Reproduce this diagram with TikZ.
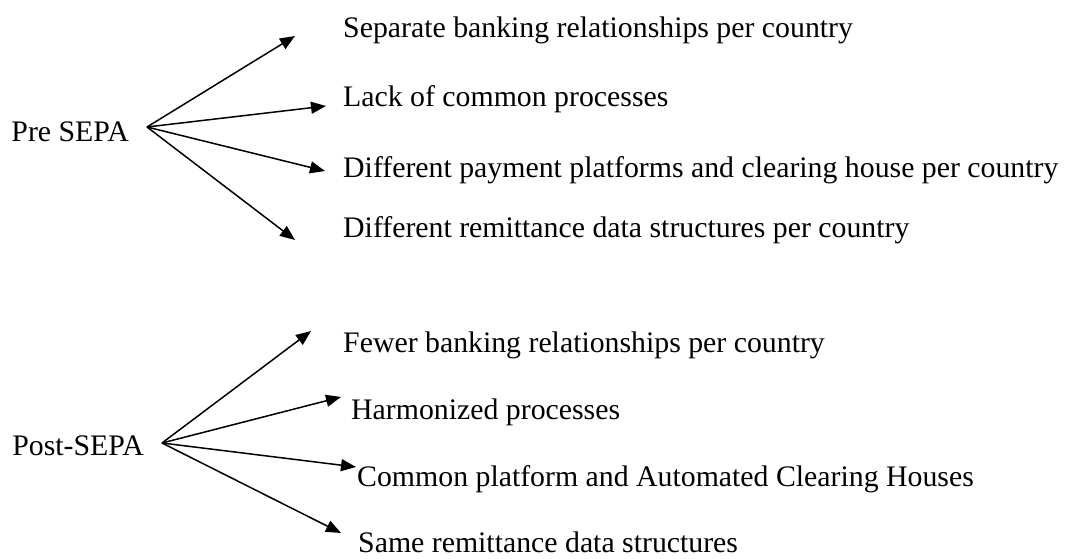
\documentclass[tikz,border=0pt]{standalone}
\usepackage{fontspec}
\setmainfont{Liberation Serif}
\usetikzlibrary{arrows.meta}
\begin{document}
\begin{tikzpicture}[x=1pt,y=-1pt,
  lbl/.style={anchor=base west,inner sep=0pt,font=\fontsize{29.8}{34}\selectfont},
  root/.style={anchor=base east,inner sep=0pt,font=\fontsize{29.8}{34}\selectfont},
  arr/.style={line width=1.5pt,-{Triangle[length=15pt,width=12pt]}}]
\useasboundingbox (0,0) rectangle (1065,559);
% Pre SEPA
\node[root] (pre) at (129,142) {Pre SEPA};
\coordinate (ps) at (147,127);
\node[lbl] (a1) at (343,38) {Separate banking relationships per country};
\node[lbl] (a2) at (343,107) {Lack of common processes};
\node[lbl] (a3) at (343,177) {Different payment platforms and clearing house per country};
\node[lbl] (a4) at (343,237) {Different remittance data structures per country};
\coordinate (t1) at (295,36);
\coordinate (t2) at (326,106);
\coordinate (t3) at (325,171);
\coordinate (t4) at (295,240);
\foreach \t in {t1,t2,t3,t4} \draw[arr] (ps) -- (\t);
% Post-SEPA
\node[root] (post) at (144,455) {Post-SEPA};
\coordinate (qs) at (162,443);
\node[lbl] (b1) at (343,352) {Fewer banking relationships per country};
\node[lbl] (b2) at (351,419) {Harmonized processes};
\node[lbl] (b3) at (357,486) {Common platform and Automated Clearing Houses};
\node[lbl] (b4) at (358,552) {Same remittance data structures};
\coordinate (u1) at (311,331);
\coordinate (u2) at (341,397);
\coordinate (u3) at (356,467);
\coordinate (u4) at (341,533);
\foreach \t in {u1,u2,u3,u4} \draw[arr] (qs) -- (\t);
\end{tikzpicture}
\end{document}
